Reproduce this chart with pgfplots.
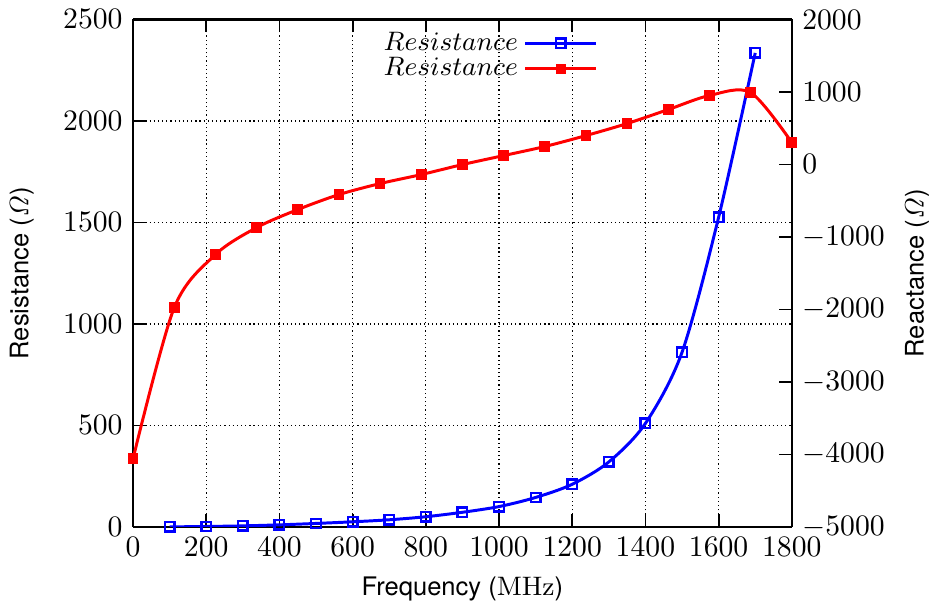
\documentclass[border=0pt]{standalone}
\usepackage[no-math]{fontspec}
\setsansfont{TeX Gyre Heros}
\usepackage{pgfplots}
\pgfplotsset{compat=1.18}
\begin{document}
\begin{tikzpicture}
\pgfplotsset{
  every axis/.append style={
    scale only axis, width=222pt, height=171pt,
    xmin=0, xmax=1800, axis line style={line width=0.8pt},
    tick style={black, line width=0.6pt}, tick align=inside,
    /pgf/number format/1000 sep={},
    label style={font=\sffamily\fontsize{8.6}{10}\selectfont},
  },
}
\begin{axis}[
  ymin=0, ymax=2500, ytick distance=500, xtick distance=200,
  axis y line*=left, axis x line*=box,
  grid=major, grid style={black, densely dotted, line width=0.4pt},
  xlabel={Frequency (\(\mathrm{MHz}\))},
  ylabel={Resistance (\(\mathit{\Omega}\))},
  ylabel style={yshift=3pt},
]
\addplot[blue, line width=1pt, smooth, mark=square, mark size=1.6pt,
  mark options={line width=0.8pt}] coordinates {
(100,0) (200,2) (300,5) (400,10) (500,17) (600,25) (700,35) (800,50)
(900,72) (1000,100) (1100,145) (1200,210) (1300,320) (1400,510)
(1500,860) (1600,1525) (1700,2335)
};
\end{axis}
\begin{axis}[
  ymin=-5000, ymax=2000, ytick distance=1000,
  axis y line*=right, axis x line=none,
  ylabel={Reactance (\(\mathit{\Omega}\))},
  legend style={at={(0.72,1.0)}, anchor=north east, draw=none, fill=none,
    font=\fontsize{8.7}{10}\selectfont, row sep=-3pt},
  legend plot pos=right, legend cell align=right,
  legend image code/.code={\draw[mark repeat=2, mark phase=2] plot coordinates {(0cm,0cm) (0.42cm,0cm) (0.84cm,0cm)};},
]
\addlegendimage{blue, line width=1pt, mark=square, mark size=1.6pt, mark options={line width=0.8pt}}
\addlegendentry{\(Resistance\)}
\addplot[red, line width=1pt, smooth, mark=square*, mark size=1.6pt,
  mark options={line width=0.4pt}] coordinates {
(0,-4061) (112.5,-1976) (225,-1245) (337.5,-872) (450,-623) (562.5,-416)
(675,-264) (787.5,-140) (900,-2) (1012.5,122) (1125,247) (1237.5,398)
(1350,564) (1462.5,757) (1575,951) (1687.5,992) (1800,302)
};
\addlegendentry{\(Resistance\)}
\end{axis}
\end{tikzpicture}
\end{document}
